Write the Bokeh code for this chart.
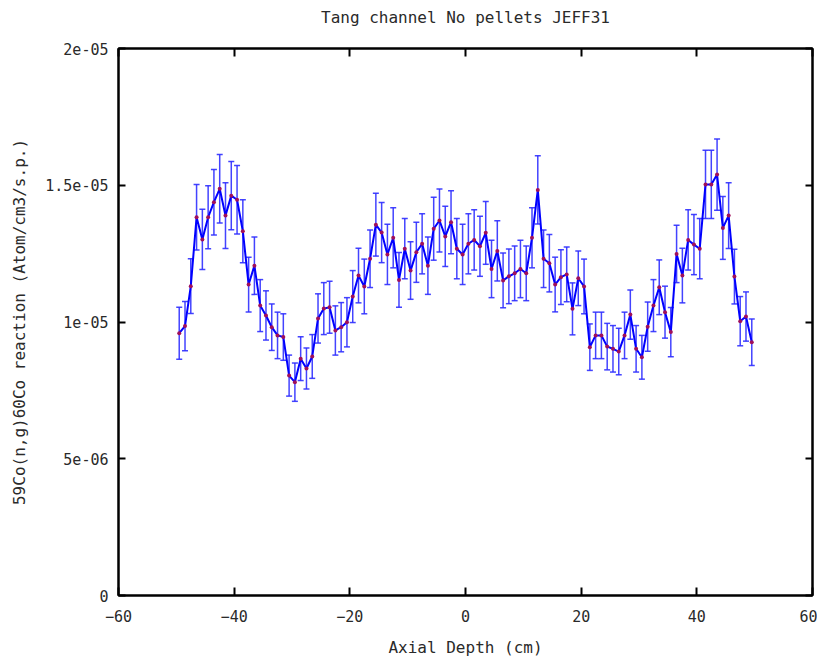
from bokeh.plotting import figure
from bokeh.models import (ColumnDataSource, Whisker, TeeHead, FixedTicker,
                          LinearAxis, Range1d)
from bokeh.embed import file_html
from bokeh.resources import INLINE

# ---------------- data ----------------
depth_cm = [-49.5 + i for i in range(100)]

rate_e6 = [9.59, 9.85, 11.31, 13.83, 13.02, 13.83, 14.38, 14.87, 13.89, 14.62,
           14.47, 13.32, 11.37, 12.06, 10.60, 10.24, 9.81, 9.51, 9.45, 8.04,
           7.80, 8.66, 8.30, 8.74, 10.13, 10.49, 10.54, 9.69, 9.81, 9.99,
           10.93, 11.70, 11.30, 12.31, 13.56, 13.27, 12.47, 13.08, 11.54, 12.68,
           11.88, 12.55, 12.86, 12.06, 13.41, 13.71, 13.13, 13.65, 12.68, 12.47,
           12.86, 13.00, 12.77, 13.26, 11.94, 12.60, 11.52, 11.67, 11.78, 11.94,
           11.78, 13.08, 14.83, 12.31, 12.15, 11.37, 11.64, 11.74, 10.48, 11.60,
           11.30, 9.08, 9.51, 9.51, 9.10, 9.02, 8.92, 9.51, 10.27, 9.02,
           8.71, 9.83, 10.60, 11.27, 10.36, 9.63, 12.49, 11.70, 13.00, 12.83,
           12.68, 15.03, 15.03, 15.39, 13.44, 13.89, 11.66, 10.03, 10.20, 9.26]

err_e6 = [0.95, 0.90, 1.00, 1.20, 1.10, 1.15, 1.20, 1.25, 1.20, 1.25,
          1.25, 1.15, 1.00, 1.05, 0.95, 0.90, 0.85, 0.85, 0.85, 0.75,
          0.70, 0.80, 0.75, 0.80, 0.90, 0.95, 0.95, 0.90, 0.90, 0.90,
          0.95, 1.00, 1.00, 1.05, 1.15, 1.10, 1.10, 1.10, 1.00, 1.10,
          1.05, 1.10, 1.10, 1.05, 1.15, 1.15, 1.10, 1.15, 1.10, 1.10,
          1.10, 1.10, 1.10, 1.15, 1.05, 1.10, 1.00, 1.00, 1.00, 1.05,
          1.00, 1.10, 1.25, 1.05, 1.05, 1.00, 1.00, 1.00, 0.95, 1.00,
          1.00, 0.85, 0.85, 0.85, 0.85, 0.85, 0.85, 0.85, 0.90, 0.85,
          0.80, 0.90, 0.95, 1.00, 0.95, 0.90, 1.05, 1.00, 1.10, 1.10,
          1.10, 1.25, 1.25, 1.30, 1.15, 1.20, 1.00, 0.90, 0.90, 0.85]

x_ticks = [-60, -40, -20, 0, 20, 40, 60]
y_ticks = [0, 5e-6, 1e-5, 1.5e-5, 2e-5]
y_tick_labels = ["0", "5e-06", "1e-05", "1.5e-05", "2e-05"]

title_text = "Tang channel No pellets JEFF31"
x_label = "Axial Depth (cm)"
y_label = "59Co(n,g)60Co reaction (Atom/cm3/s.p.)"

# ---------------- build ----------------
rate = [v * 1e-6 for v in rate_e6]
err = [e * 1e-6 for e in err_e6]
src = ColumnDataSource(dict(
    x=depth_cm, y=rate,
    lo=[r - e for r, e in zip(rate, err)],
    hi=[r + e for r, e in zip(rate, err)],
))

FONT = "DejaVu Sans Mono"
FS_TICK = "15px"
FS_LAB = "16px"
TXT = "#2a2a2a"

p = figure(width=817, height=659, output_backend="svg", toolbar_location=None,
           x_range=Range1d(-60, 60), y_range=Range1d(0, 2e-5),
           min_border_left=118, min_border_right=5,
           min_border_top=48, min_border_bottom=64)

p.grid.visible = False
p.outline_line_color = "black"
p.outline_line_width = 2
p.background_fill_color = "white"
p.border_fill_color = "white"


def style_axis(ax, ticks, tick_len, show_labels=True):
    ax.ticker = FixedTicker(ticks=ticks)
    ax.axis_line_color = "black"
    ax.axis_line_width = 2
    ax.major_tick_line_color = "black"
    ax.major_tick_line_width = 2
    ax.major_tick_in = tick_len
    ax.major_tick_out = 0
    ax.minor_tick_line_color = None
    ax.major_label_text_font = FONT
    ax.major_label_text_font_size = FS_TICK
    ax.major_label_text_color = TXT
    ax.axis_label_text_font = FONT
    ax.axis_label_text_font_size = FS_LAB
    ax.axis_label_text_font_style = "normal"
    ax.axis_label_text_color = TXT
    if not show_labels:
        ax.major_label_text_alpha = 0
        ax.major_label_text_font_size = "1px"
        ax.major_label_standoff = 0


xa = p.xaxis[0]
style_axis(xa, x_ticks, 8)
xa.major_label_standoff = 14
xa.axis_label = x_label
xa.axis_label_standoff = 13

ya = p.yaxis[0]
style_axis(ya, y_ticks, 7)
ya.major_label_overrides = {t: l for t, l in zip(y_ticks, y_tick_labels)}
ya.major_label_standoff = 10
ya.axis_label = y_label
ya.axis_label_standoff = 13

# top mirror axis carries the chart title as its label
top_ax = LinearAxis()
style_axis(top_ax, x_ticks, 8, show_labels=False)
top_ax.axis_label = title_text
top_ax.axis_label_standoff = 22
p.add_layout(top_ax, "above")

right_ax = LinearAxis()
style_axis(right_ax, y_ticks, 7, show_labels=False)
p.add_layout(right_ax, "right")

# error bars
wh = Whisker(source=src, base="x", lower="lo", upper="hi",
             line_color="#2f2fff", line_width=1.5, line_alpha=0.9,
             upper_head=TeeHead(size=6, line_color="#2f2fff", line_width=1.5, line_alpha=0.9),
             lower_head=TeeHead(size=6, line_color="#2f2fff", line_width=1.5, line_alpha=0.9))
p.add_layout(wh)

p.line("x", "y", source=src, line_color="#0000ff", line_width=2)
p.scatter("x", "y", source=src, size=4, fill_color="#a0105a",
          line_color="#a0105a", line_width=0)

open("out.html", "w").write(file_html(p, INLINE))
